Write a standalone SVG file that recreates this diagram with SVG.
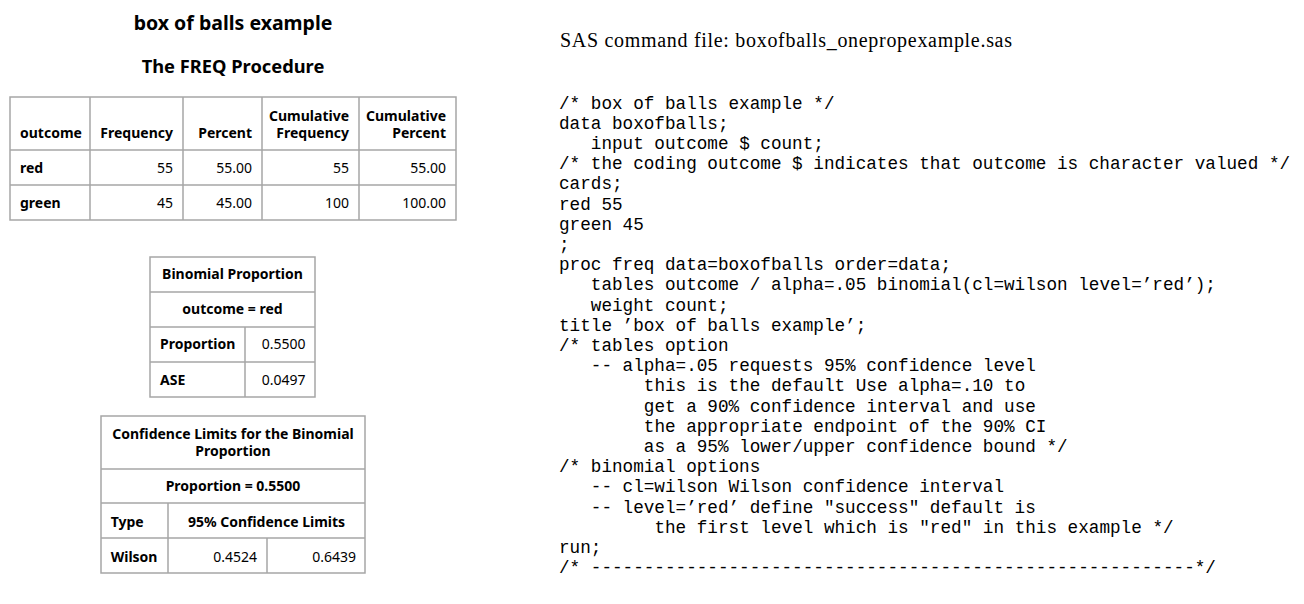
<svg xmlns="http://www.w3.org/2000/svg" width="1304" height="604" viewBox="0 0 1304 604">
<style>
.t{font-family:"Noto Sans","DejaVu Sans",sans-serif;font-size:14px;fill:#000}
.b{font-weight:bold}
.r{text-anchor:end}
.c{text-anchor:middle}
.grid{fill:none;stroke:#a6a6a6;stroke-width:1.5}
.code{font-family:"Liberation Mono","DejaVu Sans Mono",monospace;font-size:17.66px;fill:#000}
.hdr{font-family:"Liberation Serif","Times New Roman",serif;font-size:20px;fill:#000}
</style>
<rect width="1304" height="604" fill="#fff"/>
<g id="titles">
<text class="t b c" x="233" y="29.5" style="font-size:19.5px">box of balls example</text>
<text class="t b c" x="233" y="72.7" style="font-size:18.3px">The FREQ Procedure</text>
</g>
<g id="freq-table">
<rect class="grid" x="10" y="97" width="446" height="123"/>
<path class="grid" d="M90 97V220M183 97V220M262 97V220M359 97V220M10 150H456M10 185H456"/>
<text class="t b" x="20" y="138">outcome</text>
<text class="t b r" x="173" y="138">Frequency</text>
<text class="t b r" x="252" y="138">Percent</text>
<text class="t b r" x="349" y="120.5">Cumulative</text>
<text class="t b r" x="349" y="138">Frequency</text>
<text class="t b r" x="446" y="120.5">Cumulative</text>
<text class="t b r" x="446" y="138">Percent</text>
<text class="t b" x="20" y="173.3">red</text>
<text class="t r" x="173" y="173.3">55</text>
<text class="t r" x="252" y="173.3">55.00</text>
<text class="t r" x="349" y="173.3">55</text>
<text class="t r" x="446" y="173.3">55.00</text>
<text class="t b" x="20" y="207.5">green</text>
<text class="t r" x="173" y="207.5">45</text>
<text class="t r" x="252" y="207.5">45.00</text>
<text class="t r" x="349" y="207.5">100</text>
<text class="t r" x="446" y="207.5">100.00</text>
</g>
<g id="binomial-proportion">
<rect class="grid" x="150" y="257" width="165" height="140"/>
<path class="grid" d="M150 292H315M150 327H315M150 362H315M245 327V397"/>
<text class="t b c" x="232.5" y="279">Binomial Proportion</text>
<text class="t b c" x="232.5" y="314">outcome = red</text>
<text class="t b" x="160" y="349.3">Proportion</text>
<text class="t r" x="305.5" y="349.3">0.5500</text>
<text class="t b" x="160" y="385">ASE</text>
<text class="t r" x="305.5" y="385">0.0497</text>
</g>
<g id="confidence-limits">
<rect class="grid" x="101" y="416" width="264" height="157"/>
<path class="grid" d="M101 469H365M101 503H365M101 538H365M168 503V573M267 538V573"/>
<text class="t b c" x="233" y="438.5">Confidence Limits for the Binomial</text>
<text class="t b c" x="233" y="456">Proportion</text>
<text class="t b c" x="233" y="491">Proportion = 0.5500</text>
<text class="t b" x="110.7" y="526.7">Type</text>
<text class="t b c" x="266.5" y="526.7">95% Confidence Limits</text>
<text class="t b" x="110.7" y="561.7">Wilson</text>
<text class="t r" x="257" y="561.7">0.4524</text>
<text class="t r" x="356" y="561.7">0.6439</text>
</g>
<g id="command-file">
<text class="hdr" x="560" y="46.5" textLength="452" lengthAdjust="spacing">SAS command file: boxofballs_onepropexample.sas</text>
<text class="code" x="559" y="108.5">/* box of balls example */</text>
<text class="code" x="559" y="128.7">data boxofballs;</text>
<text class="code" x="590.8" y="148.9">input outcome $ count;</text>
<text class="code" x="559" y="169.1">/* the coding outcome $ indicates that outcome is character valued */</text>
<text class="code" x="559" y="189.3">cards;</text>
<text class="code" x="559" y="209.5">red 55</text>
<text class="code" x="559" y="229.7">green 45</text>
<text class="code" x="559" y="249.9">;</text>
<text class="code" x="559" y="270.1">proc freq data=boxofballs order=data;</text>
<text class="code" x="590.8" y="290.3">tables outcome / alpha=.05 binomial(cl=wilson level=’red’);</text>
<text class="code" x="590.8" y="310.5">weight count;</text>
<text class="code" x="559" y="330.7">title ’box of balls example’;</text>
<text class="code" x="559" y="350.9">/* tables option</text>
<text class="code" x="590.8" y="371.1">-- alpha=.05 requests 95% confidence level</text>
<text class="code" x="643.8" y="391.3">this is the default Use alpha=.10 to</text>
<text class="code" x="643.8" y="411.5">get a 90% confidence interval and use</text>
<text class="code" x="643.8" y="431.7">the appropriate endpoint of the 90% CI</text>
<text class="code" x="643.8" y="451.9">as a 95% lower/upper confidence bound */</text>
<text class="code" x="559" y="472.1">/* binomial options</text>
<text class="code" x="590.8" y="492.3">-- cl=wilson Wilson confidence interval</text>
<text class="code" x="590.8" y="512.5">-- level=’red’ define "success" default is</text>
<text class="code" x="654.4" y="532.7">the first level which is "red" in this example */</text>
<text class="code" x="559" y="552.9">run;</text>
<text class="code" x="559" y="573.1">/* ---------------------------------------------------------*/</text>
</g>
</svg>
